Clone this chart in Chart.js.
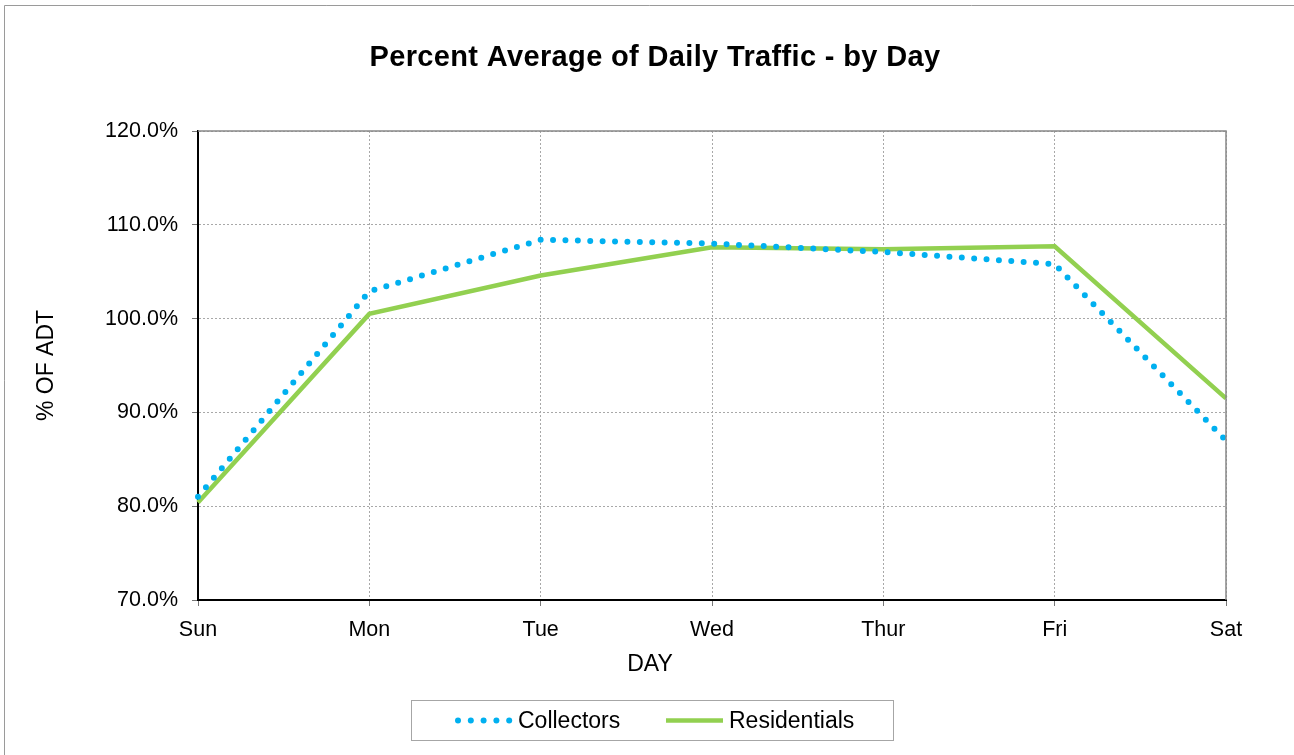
<!DOCTYPE html>
<html>
<head>
<meta charset="utf-8">
<script src="https://cdn.jsdelivr.net/npm/chart.js@4"></script>
<style>
  html, body { margin: 0; padding: 0; background: #fff; }
  #wrap { width: 1294px; height: 755px; }
</style>
</head>
<body>
<div id="wrap"><canvas id="chart" width="1294" height="755"></canvas></div>
<script>
const days = ['Sun', 'Mon', 'Tue', 'Wed', 'Thur', 'Fri', 'Sat'];
const collectors = [81.0, 102.9, 108.4, 108.0, 107.1, 105.8, 87.0];
const residentials = [80.4, 100.5, 104.6, 107.6, 107.4, 107.7, 91.5];
const yTicks = { min: 70, max: 120, step: 10 };

const FONT = "Arial, 'Liberation Sans', sans-serif";
const chartTitle = 'Percent Average of Daily Traffic - by Day';
const xTitle = 'DAY';

// frame, chart title, x title, grey top/right plot edges and the boxed legend
const decorations = {
  id: 'decorations',
  afterDraw(chart) {
    const ctx = chart.ctx;
    const a = chart.chartArea;
    ctx.save();

    ctx.strokeStyle = '#9a9a9a';
    ctx.lineWidth = 1;
    ctx.beginPath();
    ctx.moveTo(4.5, 755);
    ctx.lineTo(4.5, 5.5);
    ctx.lineTo(1294, 5.5);
    ctx.stroke();

    ctx.strokeStyle = '#888';
    ctx.lineWidth = 1.5;
    ctx.beginPath();
    ctx.moveTo(a.left, a.top);
    ctx.lineTo(a.right, a.top);
    ctx.lineTo(a.right, a.bottom);
    ctx.stroke();

    ctx.fillStyle = '#000';
    ctx.textAlign = 'center';
    ctx.textBaseline = 'middle';
    ctx.font = 'bold 29px ' + FONT;
    if ('letterSpacing' in ctx) ctx.letterSpacing = '0.35px';
    ctx.fillText(chartTitle, 655, 58);
    if ('letterSpacing' in ctx) ctx.letterSpacing = '0px';

    ctx.font = '23px ' + FONT;
    ctx.fillText(xTitle, 650, 665);

    // legend
    const box = { x: 411.5, y: 700.5, w: 482, h: 40 };
    ctx.strokeStyle = '#a6a6a6';
    ctx.lineWidth = 1;
    ctx.strokeRect(box.x, box.y, box.w, box.h);
    const cy = box.y + box.h / 2;
    const ds = chart.data.datasets;

    ctx.textAlign = 'left';
    ctx.font = '23px ' + FONT;

    ctx.fillStyle = ds[0].borderColor;
    for (let i = 0; i < 5; i++) {
      ctx.beginPath();
      ctx.arc(458 + i * 12.8, cy, 3, 0, Math.PI * 2);
      ctx.fill();
    }
    ctx.fillStyle = '#000';
    ctx.fillText(ds[0].label, 518, cy + 1);

    ctx.strokeStyle = ds[1].borderColor;
    ctx.lineWidth = ds[1].borderWidth;
    ctx.beginPath();
    ctx.moveTo(666, cy);
    ctx.lineTo(723, cy);
    ctx.stroke();
    ctx.fillText(ds[1].label, 729, cy + 1);

    ctx.restore();
  }
};

new Chart(document.getElementById('chart'), {
  type: 'line',
  data: {
    labels: days,
    datasets: [
      {
        label: 'Collectors',
        data: collectors,
        borderColor: '#00B0F0',
        borderWidth: 6,
        borderDash: [0, 12.4],
        borderCapStyle: 'round',
        pointRadius: 0,
        tension: 0,
        fill: false
      },
      {
        label: 'Residentials',
        data: residentials,
        borderColor: '#92D050',
        borderWidth: 4.5,
        borderJoinStyle: 'miter',
        pointRadius: 0,
        tension: 0,
        fill: false
      }
    ]
  },
  options: {
    responsive: false,
    animation: false,
    events: [],
    layout: { padding: { left: 30, right: 68, top: 131, bottom: 60 } },
    plugins: {
      legend: { display: false },
      tooltip: { enabled: false },
      title: { display: false }
    },
    scales: {
      x: {
        offset: false,
        afterFit(scale) { scale.height = 95; },
        grid: { color: '#a8a8a8', lineWidth: 1, tickLength: 6, tickColor: '#777' },
        border: { display: true, color: '#000', width: 2, dash: [2, 2] },
        ticks: { color: '#000', font: { family: FONT, size: 21.5 }, padding: 11, maxRotation: 0 }
      },
      y: {
        min: yTicks.min,
        max: yTicks.max,
        afterFit(scale) { scale.width = 168; },
        grid: { color: '#a8a8a8', lineWidth: 1, tickLength: 6, tickColor: '#777' },
        border: { display: true, color: '#000', width: 2, dash: [2, 2] },
        ticks: {
          stepSize: yTicks.step,
          color: '#000',
          font: { family: FONT, size: 21.5 },
          padding: 14,
          callback: v => v.toFixed(1) + '%'
        },
        title: {
          display: true,
          text: '% OF ADT',
          color: '#000',
          font: { family: FONT, size: 23 },
          padding: { top: 3, bottom: 0 }
        }
      }
    }
  },
  plugins: [decorations]
});
</script>
</body>
</html>
